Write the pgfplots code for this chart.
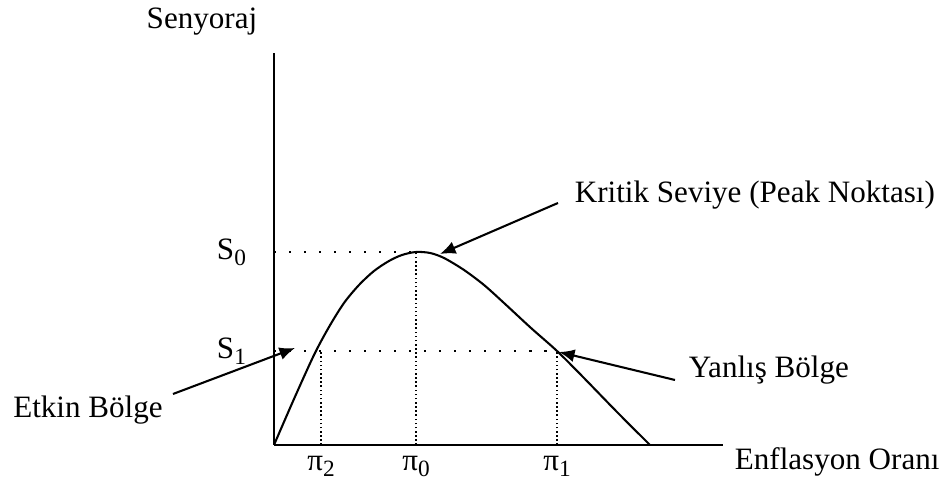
\documentclass[border=0pt,12pt]{standalone}
\usepackage{fontspec}
\setmainfont{Liberation Serif}
\usepackage{pgfplots}
\pgfplotsset{compat=1.18}
\usetikzlibrary{arrows.meta}

% lowered small subscript, as in the scanned figure
\newcommand\sub[1]{\raisebox{-0.4ex}{\fontsize{9}{9}\selectfont #1}}

\begin{document}
\begin{tikzpicture}[>={Latex[length=6pt,width=5pt]}]
\begin{axis}[
    x=0.386pt, y=0.386pt,
    xmin=0, xmax=449,
    ymin=0, ymax=392,
    axis lines=left,
    axis line style={-, line width=0.8pt},
    xtick={47,142,283},
    xticklabels={π\sub{2}, π\sub{0}, π\sub{1}},
    ytick={94,193},
    yticklabels={S\sub{1}, S\sub{0}},
    tick style={draw=none},
    xticklabel style={yshift=2pt},
    yticklabel style={xshift=-4.5pt},
    clip=false,
]
    % seigniorage curve
    \addplot[smooth, line width=0.8pt, black] coordinates {
        (0,0) (20,46) (40,90) (55,118) (70,142) (85,160) (100,174)
        (115,184) (128,190) (142,193) (156,192) (170,187) (190,175)
        (210,160) (230,142) (257,117) (283,94) (309,68) (343,33) (376,0)
    };

    % guide lines
    \addplot[black, line width=0.6pt, dash pattern=on 0.8pt off 5pt] coordinates {(0,193) (142,193)};
    \addplot[black, line width=0.6pt, dash pattern=on 0.8pt off 5pt] coordinates {(0,94) (283,94)};
    \addplot[black, line width=0.6pt, densely dotted] coordinates {(142,0) (142,193)};
    \addplot[black, line width=0.6pt, densely dotted] coordinates {(47,0) (47,94)};
    \addplot[black, line width=0.6pt, densely dotted] coordinates {(283,0) (283,94)};

    % axis titles
    \node at (axis cs:-72,423) {Senyoraj};
    \node[anchor=west] at (axis cs:450,-17) {Enflasyon Oranı};

    % annotations
    \draw[->, line width=0.8pt] (axis cs:284,242) -- (axis cs:166,191);
    \node[anchor=west] at (axis cs:290,250) {Kritik Seviye (Peak Noktası)};

    \draw[->, line width=0.8pt] (axis cs:401,65) -- (axis cs:285,93);
    \node[anchor=west] at (axis cs:404,75) {Yanlış Bölge};

    \draw[->, line width=0.8pt] (axis cs:-101,51) -- (axis cs:21,97);
    \node at (axis cs:-186,35) {Etkin Bölge};

    \coordinate (bbA) at (axis cs:-274,-34);
    \coordinate (bbB) at (axis cs:667,445);
\end{axis}
\pgfresetboundingbox
\path[use as bounding box] (bbA) rectangle (bbB);
\end{tikzpicture}
\end{document}
